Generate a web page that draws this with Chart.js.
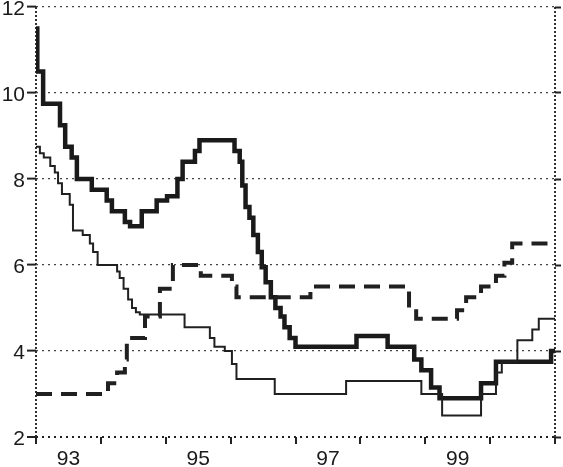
<!DOCTYPE html>
<html>
<head>
<meta charset="utf-8">
<script src="https://cdn.jsdelivr.net/npm/chart.js@4/dist/chart.umd.min.js"></script>
<style>
body { margin: 0; background: #fff; }
</style>
</head>
<body>
<canvas id="rateChart" width="563" height="467"></canvas>
<script>
// step series: date (decimal year) where the level changes, and the new level
const boldDates = [1993.00, 1993.02, 1993.11, 1993.37, 1993.45, 1993.55, 1993.63, 1993.86, 1994.09, 1994.17,
    1994.37, 1994.45, 1994.63, 1994.86, 1995.02, 1995.18, 1995.26, 1995.45, 1995.52, 1996.06,
    1996.14, 1996.18, 1996.23, 1996.29, 1996.35, 1996.42, 1996.48, 1996.54, 1996.62, 1996.69,
    1996.77, 1996.83, 1996.91, 1997.00, 1997.94, 1998.42, 1998.83, 1998.94, 1999.09, 1999.22,
    1999.86, 2000.09, 2000.94, 2001.00];
const boldValues = [11.5, 10.5, 9.75, 9.25, 8.75, 8.5, 8.0, 7.75, 7.5, 7.25,
    7.0, 6.9, 7.25, 7.5, 7.6, 8.0, 8.4, 8.65, 8.9, 8.65,
    8.4, 7.85, 7.35, 7.1, 6.7, 6.3, 5.95, 5.6, 5.25, 5.0,
    4.8, 4.55, 4.3, 4.1, 4.35, 4.1, 3.8, 3.55, 3.15, 2.9,
    3.25, 3.75, 4.0, 4.0];

const thinDates = [1993.00, 1993.06, 1993.12, 1993.22, 1993.29, 1993.34, 1993.40, 1993.52, 1993.57, 1993.72,
    1993.83, 1993.88, 1993.95, 1994.25, 1994.29, 1994.35, 1994.42, 1994.48, 1994.54, 1994.60,
    1995.29, 1995.68, 1995.75, 1995.91, 1996.02, 1996.09, 1996.68, 1997.78, 1998.94, 1999.26,
    1999.86, 2000.09, 2000.18, 2000.42, 2000.65, 2000.75, 2001.00];
const thinValues = [8.75, 8.6, 8.5, 8.3, 8.15, 7.9, 7.65, 7.4, 6.8, 6.7,
    6.5, 6.3, 6.0, 5.85, 5.7, 5.45, 5.2, 5.0, 4.9, 4.85,
    4.55, 4.3, 4.1, 4.0, 3.7, 3.35, 3.0, 3.3, 3.0, 2.5,
    3.0, 3.5, 3.75, 4.25, 4.5, 4.75, 4.75];

const dashDates = [1993.00, 1994.11, 1994.25, 1994.37, 1994.40, 1994.68, 1994.91, 1995.11, 1995.54, 1996.02,
    1996.09, 1997.23, 1998.75, 1998.86, 1999.49, 1999.63, 1999.86, 2000.09, 2000.22, 2000.34,
    2001.00];
const dashValues = [3.0, 3.25, 3.5, 3.8, 4.3, 4.8, 5.45, 6.0, 5.75, 5.5,
    5.25, 5.5, 5.0, 4.75, 4.95, 5.25, 5.5, 5.75, 6.05, 6.5,
    6.5];

const tickYears = [1993, 1995, 1997, 1999];
const tickLabels = ["93", "95", "97", "99"];

function toPoints(xs, ys) {
    return xs.map((x, i) => ({ x: x, y: ys[i] }));
}

Chart.defaults.font.family = "'Liberation Sans', Arial, sans-serif";
Chart.defaults.font.size = 21;
Chart.defaults.color = "#1a1a1a";

const ctx = document.getElementById("rateChart");

new Chart(ctx, {
    type: "line",
    data: {
        datasets: [
            {
                data: toPoints(dashDates, dashValues),
                borderColor: "#202020",
                borderWidth: 4,
                borderDash: [16, 9],
                stepped: true,
                pointRadius: 0
            },
            {
                data: toPoints(thinDates, thinValues),
                borderColor: "#202020",
                borderWidth: 2,
                stepped: true,
                pointRadius: 0
            },
            {
                data: toPoints(boldDates, boldValues),
                borderColor: "#1a1a1a",
                borderWidth: 4.5,
                stepped: true,
                pointRadius: 0
            }
        ]
    },
    options: {
        responsive: false,
        animation: false,
        layout: { padding: { top: 7, left: 0, right: 0, bottom: 0 } },
        plugins: { legend: { display: false }, tooltip: { enabled: false } },
        scales: {
            x: {
                type: "linear",
                min: 1993,
                max: 2001,
                border: { display: false, dash: [2, 2] },
                grid: {
                    color: (c) => (c.tick && (c.tick.value === 1993 || c.tick.value === 2001)) ? "#333" : "rgba(0,0,0,0)",
                    lineWidth: 2,
                    tickColor: "#222",
                    tickWidth: 2,
                    tickLength: 7
                },
                ticks: {
                    stepSize: 1,
                    autoSkip: false,
                    maxRotation: 0,
                    padding: 3,
                    labelOffset: 32.5,
                    callback: (value) => {
                        const i = tickYears.indexOf(value);
                        return i >= 0 ? tickLabels[i] : "";
                    }
                },
                afterFit: (scale) => {
                    scale.height = 30;
                    scale.paddingLeft = 0;
                    scale.paddingRight = 0;
                }
            },
            y: {
                position: "left",
                min: 2,
                max: 12,
                border: { display: false, dash: [2, 4] },
                grid: {
                    color: (c) => (c.tick && c.tick.value === 2) ? "#222" : "#444",
                    lineWidth: (c) => (c.tick && c.tick.value === 2) ? 2 : 1.2,
                    tickColor: "#222",
                    tickWidth: 2,
                    tickLength: 9
                },
                ticks: { stepSize: 2, padding: 2, labelOffset: 2 },
                afterFit: (scale) => {
                    scale.width = 36;
                    scale.paddingTop = 0;
                    scale.paddingBottom = 0;
                }
            },
            y2: {
                position: "right",
                min: 2,
                max: 12,
                border: { display: false },
                grid: {
                    drawOnChartArea: false,
                    tickColor: "#222",
                    tickWidth: 2,
                    tickLength: 6
                },
                ticks: { stepSize: 2, display: false },
                afterFit: (scale) => {
                    scale.width = 8;
                    scale.paddingTop = 0;
                    scale.paddingBottom = 0;
                }
            }
        }
    }
});
</script>
</body>
</html>
